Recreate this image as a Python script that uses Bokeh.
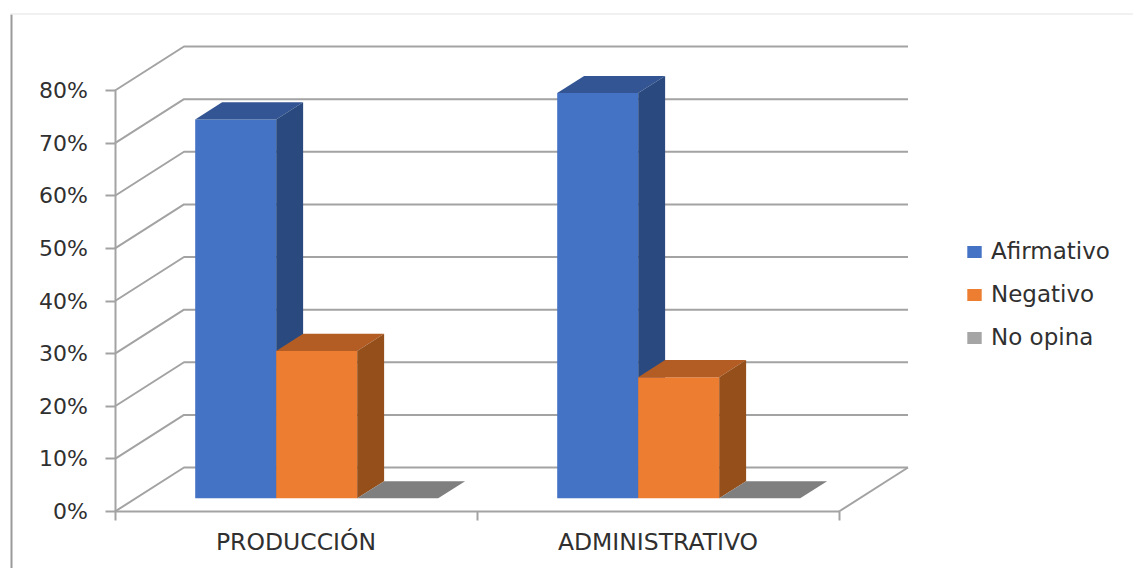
from bokeh.embed import file_html
from bokeh.models import (BoxAnnotation, FixedTicker, LinearAxis, NumeralTickFormatter,
                          Range1d)
from bokeh.plotting import figure
from bokeh.resources import INLINE

# Survey results per staff area, as shares of respondents
categories = ["PRODUCCIÓN", "ADMINISTRATIVO"]
afirmativo = [0.72, 0.77]
negativo = [0.28, 0.23]
no_opina = [0.0, 0.0]
y_ticks = [0.0, 0.1, 0.2, 0.3, 0.4, 0.5, 0.6, 0.7, 0.8]

WIDTH, HEIGHT = 1133, 568

# Canvas placement of the plot box, used to set the ranges
X0_PX, PX_PER_GROUP = 114.5, 362
Y0_PX, PX_PER_UNIT = 511, 526.25

# Oblique projection of the chart's depth axis
WALL_DX = 69 / PX_PER_GROUP
WALL_DY = 44 / PX_PER_UNIT
BAR_FRONT = 0.30   # fraction of the depth where bar fronts sit
BAR_DEPTH = 0.39   # fraction of the depth a bar occupies
BAR_WIDTH = 81 / PX_PER_GROUP

GRID = "#a3a3a3"
TEXT = "#303030"
FONT = "DejaVu Sans"

p = figure(
    width=WIDTH, height=HEIGHT, output_backend="svg", toolbar_location=None,
    x_range=Range1d(-X0_PX / PX_PER_GROUP, (WIDTH - X0_PX) / PX_PER_GROUP),
    y_range=Range1d((Y0_PX - HEIGHT) / PX_PER_UNIT, Y0_PX / PX_PER_UNIT),
    x_axis_type=None, y_axis_type=None,
    min_border=0, outline_line_color=None, background_fill_color="white",
)
p.xgrid.visible = False
p.ygrid.visible = False

# Thin frame along the top and left of the page (screen units count up from the bottom)
p.add_layout(BoxAnnotation(left=10, right=12, top=HEIGHT - 14, bottom=-5,
                           left_units="screen", right_units="screen",
                           top_units="screen", bottom_units="screen",
                           fill_color="#9a9a9a", fill_alpha=1, line_color=None))
p.add_layout(BoxAnnotation(left=10, right=WIDTH + 5, top=HEIGHT - 13, bottom=HEIGHT - 14,
                           left_units="screen", right_units="screen",
                           top_units="screen", bottom_units="screen",
                           fill_color="#e4e4e4", fill_alpha=1, line_color=None))

# Side wall diagonals and back wall lines for every tick
n_groups = len(categories)
grid_xs, grid_ys = [], []
for t in y_ticks:
    grid_xs.append([0, WALL_DX, n_groups + WALL_DX])
    grid_ys.append([t, t + WALL_DY, t + WALL_DY])
grid_xs.append([n_groups, n_groups + WALL_DX])
grid_ys.append([0, WALL_DY])
p.multi_line(grid_xs, grid_ys, line_color=GRID, line_width=2)


def draw_series(values, index, front, top, side, label):
    """Draw one series as extruded boxes: front face, then top and right faces."""
    margin = (1 - 3 * BAR_WIDTH) / 2
    sx, sy = BAR_FRONT * WALL_DX, BAR_FRONT * WALL_DY
    ex, ey = BAR_DEPTH * WALL_DX, BAR_DEPTH * WALL_DY
    lefts = [g + margin + sx + index * BAR_WIDTH for g in range(len(values))]
    rights = [x + BAR_WIDTH for x in lefts]
    tops = [v + sy for v in values]
    p.quad(left=lefts, right=rights, bottom=[sy] * len(values), top=tops,
           fill_color=front, line_color=None, legend_label=label)
    p.patches(
        [[l, r, r + ex, l + ex] for l, r in zip(lefts, rights)],
        [[t, t, t + ey, t + ey] for t in tops],
        fill_color=top, line_color=None,
    )
    if any(values):
        p.patches(
            [[r, r + ex, r + ex, r] for r in rights],
            [[sy, sy + ey, t + ey, t] for t in tops],
            fill_color=side, line_color=None,
        )


draw_series(afirmativo, 0, "#4472c4", "#335593", "#2a4a7f", "Afirmativo")
draw_series(negativo, 1, "#ed7d31", "#b35d24", "#954f1b", "Negativo")
draw_series(no_opina, 2, "#a5a5a5", "#7f7f7f", "#7f7f7f", "No opina")

# Value axis along the front edge of the side wall
y_axis = LinearAxis(
    fixed_location=0, bounds=(0, max(y_ticks)),
    ticker=FixedTicker(ticks=y_ticks),
    formatter=NumeralTickFormatter(format="0%"),
    axis_line_color=GRID, axis_line_width=2,
    major_tick_line_color=GRID, major_tick_line_width=2,
    major_tick_in=0, major_tick_out=10, minor_tick_line_color=None,
    major_label_standoff=17,
    major_label_text_font=FONT, major_label_text_font_size="22px",
    major_label_text_color=TEXT,
)
p.add_layout(y_axis, "left")

# Category axis: labels at group centres, separators between groups
centres = [g + 0.5 for g in range(n_groups)]
x_axis = LinearAxis(
    fixed_location=0, bounds=(0, n_groups),
    ticker=FixedTicker(ticks=centres, minor_ticks=list(range(n_groups + 1))),
    major_label_overrides=dict(zip(centres, categories)),
    axis_line_color=GRID, axis_line_width=2,
    major_tick_line_color=None, major_tick_in=0, major_tick_out=0,
    minor_tick_line_color=GRID, minor_tick_line_width=2,
    minor_tick_in=0, minor_tick_out=9,
    major_label_standoff=7,
    major_label_text_font=FONT, major_label_text_font_size="23.5px",
    major_label_text_color=TEXT,
)
p.add_layout(x_axis, "below")

legend = p.legend[0]
legend.location = (965, HEIGHT - 350)
legend.border_line_color = None
legend.background_fill_alpha = 0
legend.glyph_width = 18
legend.glyph_height = 15
legend.label_height = 20
legend.spacing = 17
legend.margin = 0
legend.padding = 10
legend.label_standoff = 8
legend.label_text_font = FONT
legend.label_text_font_size = "23px"
legend.label_text_color = TEXT

open("out.html", "w").write(file_html(p, INLINE))
